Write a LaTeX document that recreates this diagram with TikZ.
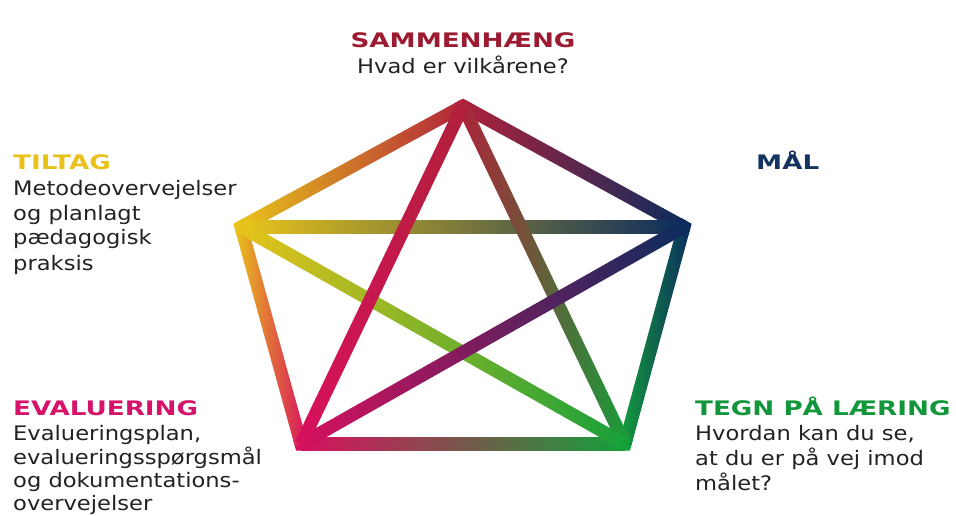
\documentclass[tikz,border=0pt]{standalone}
\usepackage{fontspec}
\usetikzlibrary{calc}
\newfontfamily\bodyfont[FakeStretch=1.13]{DejaVu Sans}
\newfontfamily\headfont[FakeStretch=1.31]{DejaVu Sans Bold}
\definecolor{cTop}{HTML}{B0213A}
\definecolor{cRight}{HTML}{0B2C5E}
\definecolor{cBR}{HTML}{14A03A}
\definecolor{cBL}{HTML}{D8105E}
\definecolor{cLeft}{HTML}{E8C41A}
\definecolor{tTop}{HTML}{9B1B30}
\definecolor{tRight}{HTML}{14335E}
\definecolor{tBR}{HTML}{12963C}
\definecolor{tBL}{HTML}{D6136A}
\definecolor{tLeft}{HTML}{E8C21A}
\definecolor{bodygray}{HTML}{222222}
% gradient bar from #1 (colour #3) to #2 (colour #4); #1 must lie left of #2
\newcommand\gradedge[4]{%
  \pgfpointdiff{\pgfpointanchor{#1}{center}}{\pgfpointanchor{#2}{center}}%
  \pgfgetlastxy\gdx\gdy
  \pgfmathsetmacro\gang{atan2(\gdy,\gdx)}%
  \pgfmathsetmacro\glen{veclen(\gdx,\gdy)}%
  \begin{scope}[shift={(#1)},rotate=\gang]
    \shade[left color=#3,right color=#4] (0pt,-6.5pt) rectangle (\glen pt,6.5pt);
  \end{scope}}
% mitred corner piece at vertex #2 between neighbours #1 and #3
\newcommand\cornerpiece[4]{%
  \draw[line width=13pt, line join=miter, line cap=butt, draw=#4]
    ($(#2)!7pt!(#1)$) -- (#2) -- ($(#2)!7pt!(#3)$);}
\newcommand\blocklines[2]{\begin{tabular}[t]{@{}#1@{}}#2\end{tabular}}
\tikzset{
  label/.style={inner sep=0pt, text=bodygray, font=\bodyfont\fontsize{20}{25}\selectfont},
}
\begin{document}
\begin{tikzpicture}[x=1pt,y=-1pt]
\useasboundingbox (0,0) rectangle (956,516);
\coordinate (T) at (463,106);
\coordinate (R) at (684,227);
\coordinate (BR) at (625,444);
\coordinate (BL) at (301,444);
\coordinate (L) at (241,227);
% corners
\cornerpiece{L}{T}{R}{cTop}
\cornerpiece{T}{R}{BR}{cRight}
\cornerpiece{R}{BR}{BL}{cBR}
\cornerpiece{BR}{BL}{L}{cBL}
\cornerpiece{BL}{L}{T}{cLeft}
% outer pentagon
\gradedge{L}{T}{cLeft}{cTop}
\gradedge{L}{BL}{cLeft}{cBL}
\gradedge{BL}{BR}{cBL}{cBR}
\gradedge{BR}{R}{cBR}{cRight}
\gradedge{T}{R}{cTop}{cRight}
% star
\gradedge{L}{R}{cLeft}{cRight}
\gradedge{T}{BR}{cTop}{cBR}
\gradedge{L}{BR}{cLeft}{cBR}
\gradedge{BL}{R}{cBL}{cRight}
\gradedge{BL}{T}{cBL}{cTop}
% labels
\node[label, anchor=base] (sam) at (463,48)
  {\blocklines{c}{{\headfont\color{tTop}SAMMENHÆNG}\\Hvad er vilkårene?}};
\node[label, anchor=base west] (til) at (13,170)
  {\blocklines{l}{{\headfont\color{tLeft}TILTAG}\\Metodeovervejelser\\og planlagt\\pædagogisk\\praksis}};
\node[label, anchor=base west] (maal) at (756,170)
  {{\headfont\color{tRight}MÅL}};
\node[label, anchor=base west, font=\bodyfont\fontsize{20}{23}\selectfont] (eva) at (13,415)
  {\blocklines{l}{{\headfont\color{tBL}EVALUERING}\\[2pt]Evalueringsplan,\\evalueringsspørgsmål\\og dokumentations-\\overvejelser}};
\node[label, anchor=base west] (tegn) at (695,415)
  {\blocklines{l}{{\headfont\color{tBR}TEGN PÅ LÆRING}\\Hvordan kan du se,\\at du er på vej imod\\målet?}};
\end{tikzpicture}
\end{document}
